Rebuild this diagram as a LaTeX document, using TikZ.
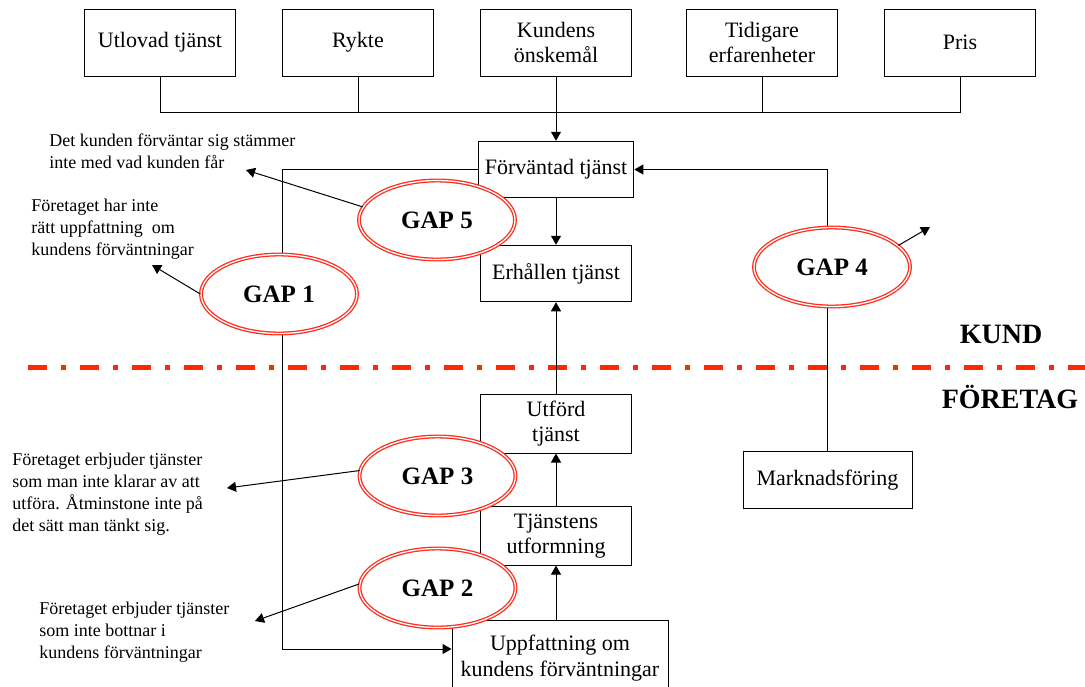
\documentclass[tikz,border=0pt]{standalone}
\usepackage{fontspec}
\setmainfont{Liberation Serif}
\usetikzlibrary{shapes.geometric, arrows.meta}
\definecolor{gapred}{RGB}{255,45,30}
\definecolor{linered}{RGB}{255,40,0}
\tikzset{box/.style = {rectangle, line width=0.5pt, minimum width=75.5pt, minimum height=28.25pt, align=center, draw=black, fill=white, font=\fontsize{11}{12.75}\selectfont}}
\tikzset{topbox/.style = {box, minimum height=33.5pt}}
\tikzset{gap/.style = {ellipse, draw=gapred, line width=0.65pt, double=white, double distance=0.65pt, fill=white, minimum width=78pt, minimum height=39.5pt, inner sep=0pt, font=\fontsize{12.5}{15}\selectfont\bfseries}}
\tikzset{note/.style = {anchor=north west, inner sep=0pt, align=left, font=\fontsize{9}{11}\selectfont}}
\tikzset{side/.style = {anchor=base, inner sep=0pt, font=\fontsize{14}{16}\selectfont\bfseries}}
\tikzset{conn/.style = {line width=0.5pt}}
\tikzset{arrow/.style = {conn, -{Triangle[length=4.5pt,width=5pt]}}}

\begin{document}
\begin{tikzpicture}[x=0.5pt, y=-0.5pt, node distance=99pt]
	\useasboundingbox (0,0) rectangle (1085,686);
	\draw [linered, line width=2.5pt, dash pattern=on 9.5pt off 7pt on 2.5pt off 7pt] (28,367) -- (1085,367);

	\node (utlovad) 	[topbox] at (160,42.5)						{Utlovad tjänst};
	\node (rykte) 		[topbox, right of=utlovad] 					{Rykte};
	\node (kundens) 	[topbox, right of=rykte] 					{Kundens\\önskemål};
	\node (tidigare) 	[topbox, right of=kundens, xshift=4pt] 		{Tidigare\\erfarenheter};
	\node (pris) 		[topbox, right of=tidigare] 				{Pris};
	\node (forvantad) 	[box, below of=kundens, yshift=35.5pt] 		{Förväntad tjänst};
	\node (erhallen) 	[box, below of=forvantad, yshift=47pt] 		{Erhållen tjänst};
	\node (utford) 		[box, below of=erhallen, yshift=24pt] 		{Utförd\\tjänst};
	\node (tjanstens) 	[box, below of=utford, yshift=42.75pt] 		{Tjänstens\\utformning};
	\node (uppfattning) [box, below of=tjanstens, xshift=2pt, yshift=38pt, minimum width=108pt, minimum height=38pt] {Uppfattning om\\kundens förväntningar};
	\node (marknad) 	[box, right of=utford, xshift=36.75pt, yshift=-28.25pt, minimum width=84.5pt] {Marknadsföring};

	\coordinate (bus) at (0,112);
	\draw [conn] (utlovad.south) |- (pris.south |- bus) -- (pris.south);
	\draw [conn] (rykte.south) -- (rykte.south |- bus);
	\draw [conn] (tidigare.south) -- (tidigare.south |- bus);
	\draw [arrow] (kundens) 	-- (forvantad);
	\draw [arrow] (forvantad) 	-- (erhallen);
	\draw [arrow] (utford) 		-- (erhallen);
	\draw [arrow] (tjanstens) 	-- (utford);
	\draw [arrow] (tjanstens |- uppfattning.north) -- (tjanstens);

	\coordinate (loop) at (282,649);
	\draw [arrow] (forvantad.west) -| (loop) -- (loop -| uppfattning.west);
	\draw [arrow] (marknad) 	|- (forvantad.east);

	\node (gap5) [gap, left of=forvantad, xshift=39.5pt, yshift=-25.25pt] 	{GAP 5};
	\node (gap1) [gap, left of=gap5, xshift=20pt, yshift=-37pt] 				{GAP 1};
	\node (gap4) [gap, right of=erhallen, xshift=39pt, yshift=3.25pt] 		{GAP 4};
	\node (gap3) [gap, left of=utford, xshift=39.75pt, yshift=-26.25pt] 		{GAP 3};
	\node (gap2) [gap, left of=tjanstens, xshift=39.75pt, yshift=-26pt] 		{GAP 2};

	\node (motsvarar) 	[note] at (49,133) 	{Det kunden förväntar sig stämmer\\inte med vad kunden får};
	\node (uppfattar) 	[note] at (31,199) 	{Företaget har inte\\rätt uppfattning~ om\\kundens förväntningar};
	\node (klarar) 		[note] at (12,453) 	{Företaget erbjuder tjänster\\som man inte klarar av att\\utföra. Åtminstone inte på\\det sätt man tänkt sig.};
	\node (bottnar) 	[note] at (39,602) 	{Företaget erbjuder tjänster\\som inte bottnar i\\kundens förväntningar};

	\coordinate (t5) at (246,170);
	\coordinate (t1) at (152,265);
	\coordinate (t4) at (930,227);
	\coordinate (t3) at (227,488);
	\coordinate (t2) at (255,621);
	\draw [arrow] (gap5.170) 	-- (t5);
	\draw [arrow] (gap1.west) 	-- (t1);
	\draw [arrow] (gap4.18) 	-- (t4);
	\draw [arrow] (gap3.176) 	-- (t3);
	\draw [arrow] (gap2.177) 	-- (t2);

	\node (kund) 	[side] at (1001,343) 	{KUND};
	\node (foretag) [side] at (1010,408) 	{FÖRETAG};
\end{tikzpicture}
\end{document}
